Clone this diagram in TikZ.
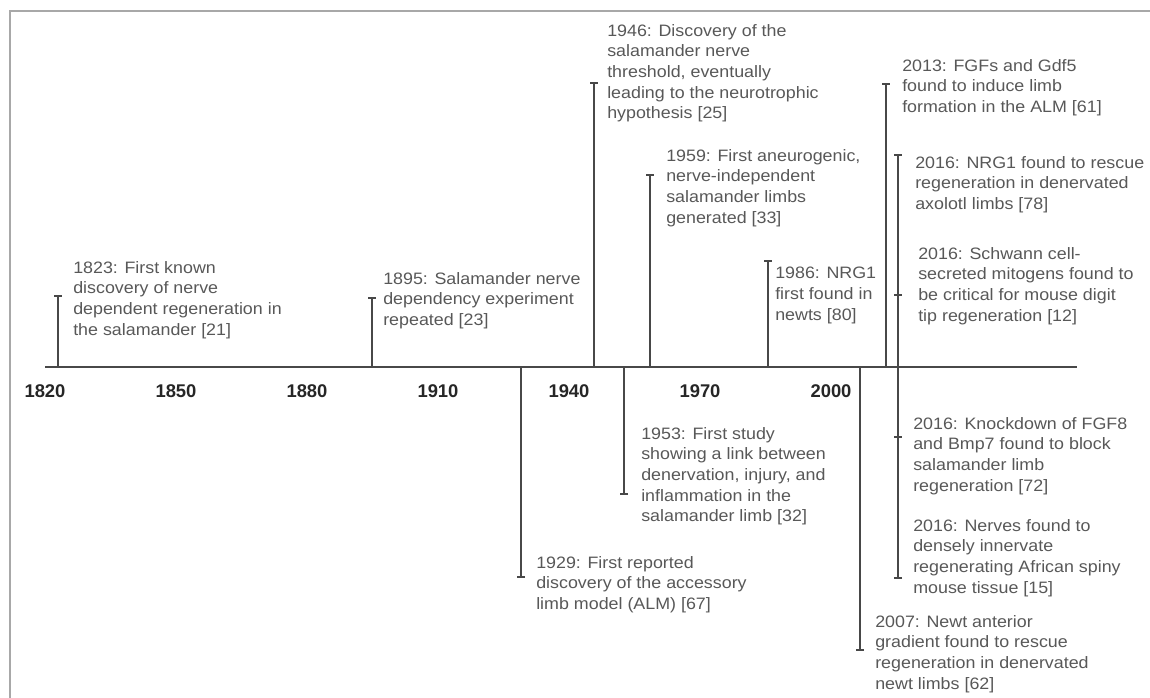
\documentclass[tikz,border=0pt]{standalone}
\usepackage{fontspec}
\setmainfont{Liberation Sans}
\newfontfamily\evfont[FakeStretch=1.08]{Liberation Sans}
\usetikzlibrary{arrows.meta}
\definecolor{evgray}{RGB}{88,88,88}
\definecolor{linegray}{RGB}{72,72,72}
\definecolor{framegray}{RGB}{168,168,168}
\tikzset{
    evtext/.style={anchor=north west, inner sep=0pt, align=left, text=evgray,
        font=\evfont\fontsize{12.4pt}{15.5pt}\selectfont},
    evline/.style={draw=linegray, line width=1.1pt, -{Bar[width=6pt, line width=1.5pt]}},
    midtick/.style={draw=linegray, line width=1.5pt},
    yearlab/.style={inner sep=0pt, text=black!85, font=\bfseries\fontsize{13.8pt}{16pt}\selectfont},
}
\begin{document}
\begin{tikzpicture}[x=0.75pt, y=-0.75pt] %timeline
            \useasboundingbox (0,0) rectangle (1150,698);
            \draw[framegray, line width=1.5pt] (10,698) -- (10,11) -- (1150,11);

            \coordinate (axL) at (45,367);
            \coordinate (axR) at (1077,367);

            % years
            \node[yearlab] (y1820) at (45,391) {1820};
            \node[yearlab] (y1850) at (176,391) {1850};
            \node[yearlab] (y1880) at (307,391) {1880};
            \node[yearlab] (y1910) at (438,391) {1910};
            \node[yearlab] (y1940) at (569,391) {1940};
            \node[yearlab] (y1970) at (700,391) {1970};
            \node[yearlab] (y2000) at (831,391) {2000};

            % above the line
            \coordinate (a1823) at (58,367);  \coordinate (t1823) at (58,295);
            \coordinate (a1895) at (372,367); \coordinate (t1895) at (372,297);
            \coordinate (a1946) at (594,367); \coordinate (t1946) at (594,82);
            \coordinate (a1959) at (650,367); \coordinate (t1959) at (650,174);
            \coordinate (a1986) at (768,367); \coordinate (t1986) at (768,260);
            \coordinate (a2013) at (886,367); \coordinate (t2013) at (886,83);
            \coordinate (a2016u) at (898,367); \coordinate (t2016u) at (898,154);
            \coordinate (m2016u) at (898,295);
            \draw[evline] (a1823) -- (t1823);
            \draw[evline] (a1895) -- (t1895);
            \draw[evline] (a1946) -- (t1946);
            \draw[evline] (a1959) -- (t1959);
            \draw[evline] (a1986) -- (t1986);
            \draw[evline] (a2013) -- (t2013);
            \draw[evline] (a2016u) -- (t2016u);
            \draw[midtick] ([xshift=-3pt]m2016u) -- ([xshift=3pt]m2016u);

            % below the line
            \coordinate (a1929) at (521,367); \coordinate (t1929) at (521,578);
            \coordinate (a1953) at (624,367); \coordinate (t1953) at (624,495);
            \coordinate (a2007) at (860,367); \coordinate (t2007) at (860,651);
            \coordinate (a2016d) at (898,367); \coordinate (t2016d) at (898,579);
            \coordinate (m2016d) at (898,437);
            \draw[evline] (a1929) -- (t1929);
            \draw[evline] (a1953) -- (t1953);
            \draw[evline] (a2007) -- (t2007);
            \draw[evline] (a2016d) -- (t2016d);
            \draw[midtick] ([xshift=-3pt]m2016d) -- ([xshift=3pt]m2016d);

            \draw[linegray, line width=2pt] (axL) -- (axR);

            \node[evtext] (n1823) at (73,261) {1823: First known\\discovery of nerve\\dependent regeneration in\\the salamander [21]};
            \node[evtext] (n1895) at (383,272) {1895: Salamander nerve\\dependency experiment\\repeated [23]};
            \node[evtext] (n1946) at (607,24) {1946: Discovery of the\\salamander nerve\\threshold, eventually\\leading to the neurotrophic\\hypothesis [25]};
            \node[evtext] (n1959) at (666,149) {1959: First aneurogenic,\\nerve-independent\\salamander limbs\\generated [33]};
            \node[evtext] (n1986) at (775,267) {1986: NRG1\\first found in\\newts [80]};
            \node[evtext] (n2013) at (902,59) {2013: FGFs and Gdf5\\found to induce limb\\formation in the ALM [61]};
            \node[evtext] (n2016a) at (915,156) {2016: NRG1 found to rescue\\regeneration in denervated\\axolotl limbs [78]};
            \node[evtext] (n2016b) at (918,247) {2016: Schwann cell-\\secreted mitogens found to\\be critical for mouse digit\\tip regeneration [12]};
            \node[evtext] (n1929) at (536,556) {1929: First reported\\discovery of the accessory\\limb model (ALM) [67]};
            \node[evtext] (n1953) at (641,427) {1953: First study\\showing a link between\\denervation, injury, and\\inflammation in the\\salamander limb [32]};
            \node[evtext] (n2007) at (875,615) {2007: Newt anterior\\gradient found to rescue\\regeneration in denervated\\newt limbs [62]};
            \node[evtext] (n2016c) at (913,417) {2016: Knockdown of FGF8\\and Bmp7 found to block\\salamander limb\\regeneration [72]};
            \node[evtext] (n2016d) at (913,519) {2016: Nerves found to\\densely innervate\\regenerating African spiny\\mouse tissue [15]};
\end{tikzpicture}
\end{document}
